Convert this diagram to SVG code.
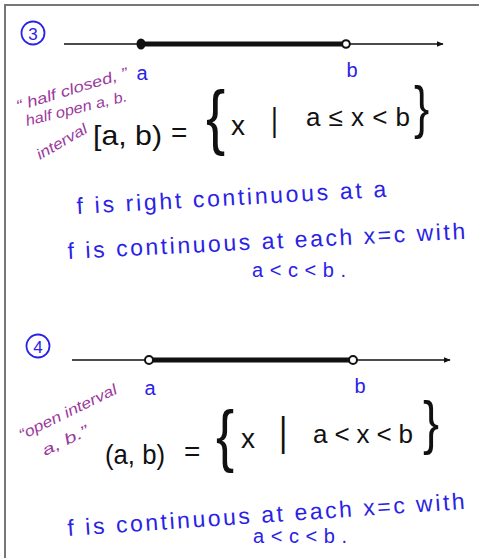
<svg xmlns="http://www.w3.org/2000/svg" width="479" height="558" viewBox="0 0 479 558">
<style>
.ink{font-family:"Liberation Sans","DejaVu Sans",sans-serif;}
.blue{fill:#2a22e6;}
.blk{fill:#111;}
.pur{fill:#9b3a9e;font-style:italic;}
.axis{stroke:#111;stroke-width:1.5;fill:none;}
.thick{stroke:#111;stroke-width:5;}
.open{fill:#fff;stroke:#111;stroke-width:2;}
.circ{fill:none;stroke:#2a22e6;stroke-width:1.8;}
</style>
<defs>
<marker id="arr" viewBox="0 0 10 10" refX="9" refY="5" markerWidth="7" markerHeight="7" orient="auto" markerUnits="userSpaceOnUse">
<path d="M0,1 L10,5 L0,9 z" fill="#111"/>
</marker>
</defs>
<rect x="0" y="0" width="479" height="558" fill="#fff"/>
<path d="M5,558 L5,5 L479,5" fill="none" stroke="#777" stroke-width="2"/>

<g id="section3">
<g id="label3">
<circle class="circ" cx="33" cy="33" r="11.5"/>
<text class="ink blue" x="33" y="39.5" font-size="17" text-anchor="middle">3</text>
</g>
<g id="numberline3">
<line class="axis" x1="64" y1="44" x2="443" y2="44" marker-end="url(#arr)"/>
<line class="thick" x1="141" y1="44" x2="342" y2="44"/>
<ellipse cx="141" cy="44" rx="4.5" ry="5.5" fill="#111"/>
<circle class="open" cx="346" cy="44" r="3.8"/>
<text class="ink blue" x="142" y="80" font-size="20" text-anchor="middle">a</text>
<text class="ink blue" x="352" y="77" font-size="20" text-anchor="middle">b</text>
</g>
<g id="note3" class="ink pur" font-size="15">
<text transform="translate(18,111) rotate(-17)" textLength="116" lengthAdjust="spacingAndGlyphs">“ half closed, ”</text>
<text transform="translate(27,126) rotate(-14)" textLength="104" lengthAdjust="spacingAndGlyphs">half open a, b.</text>
<text transform="translate(40,160) rotate(-30)" textLength="56" lengthAdjust="spacingAndGlyphs">interval</text>
</g>
<g id="eq3" class="ink blk">
<text x="93" y="145" font-size="28" textLength="69" lengthAdjust="spacingAndGlyphs">[a, b)</text>
<text x="171" y="142" font-size="28">=</text>
<text transform="translate(206,141) scale(0.8,1)" font-size="72">{</text>
<text x="231" y="135" font-size="28">x</text>
<text transform="translate(271,131) scale(0.8,1)" font-size="33">|</text>
<text x="306" y="126" font-size="26" textLength="104" lengthAdjust="spacing">a ≤ x &lt; b</text>
<text transform="translate(414,127) scale(0.8,1)" font-size="57">}</text>
</g>
<g id="text3" class="ink blue">
<text transform="translate(77,214) rotate(-3.2)" font-size="23" textLength="310" lengthAdjust="spacing">f is  right continuous at  a</text>
<text transform="translate(68,259) rotate(-2.9)" font-size="23" textLength="398" lengthAdjust="spacing">f  is continuous at each  x=c  with</text>
<text x="252" y="277" font-size="20" textLength="94" lengthAdjust="spacing">a&lt;c&lt;b.</text>
</g>
</g>

<g id="section4">
<g id="label4">
<circle class="circ" cx="38" cy="346" r="11.5"/>
<text class="ink blue" x="38" y="352.5" font-size="17" text-anchor="middle">4</text>
</g>
<g id="numberline4">
<line class="axis" x1="72" y1="360" x2="450" y2="360" marker-end="url(#arr)"/>
<line class="thick" x1="149" y1="360" x2="350" y2="360"/>
<circle class="open" cx="149" cy="360" r="4"/>
<circle class="open" cx="353" cy="360" r="4"/>
<text class="ink blue" x="150" y="395" font-size="20" text-anchor="middle">a</text>
<text class="ink blue" x="360" y="393" font-size="20" text-anchor="middle">b</text>
</g>
<g id="note4" class="ink pur" font-size="15">
<text transform="translate(22,440) rotate(-26)" textLength="107" lengthAdjust="spacingAndGlyphs">“open interval</text>
<text transform="translate(45,456) rotate(-26)" textLength="50" lengthAdjust="spacingAndGlyphs">a, b.”</text>
</g>
<g id="eq4" class="ink blk">
<text x="105" y="464" font-size="28" textLength="60" lengthAdjust="spacingAndGlyphs">(a, b)</text>
<text x="184" y="461" font-size="28">=</text>
<text transform="translate(216,459) scale(0.8,1)" font-size="68">{</text>
<text x="241" y="448" font-size="28">x</text>
<text transform="translate(279,446) scale(0.8,1)" font-size="40">|</text>
<text x="313" y="443" font-size="26" textLength="100" lengthAdjust="spacing">a &lt; x &lt; b</text>
<text transform="translate(423,443) scale(0.8,1)" font-size="60">}</text>
</g>
<g id="text4" class="ink blue">
<text transform="translate(68,536) rotate(-3.9)" font-size="23" textLength="398" lengthAdjust="spacing">f  is continuous at each  x=c  with</text>
<text x="253" y="543" font-size="20" textLength="94" lengthAdjust="spacing">a&lt;c&lt;b.</text>
</g>
</g>
</svg>
